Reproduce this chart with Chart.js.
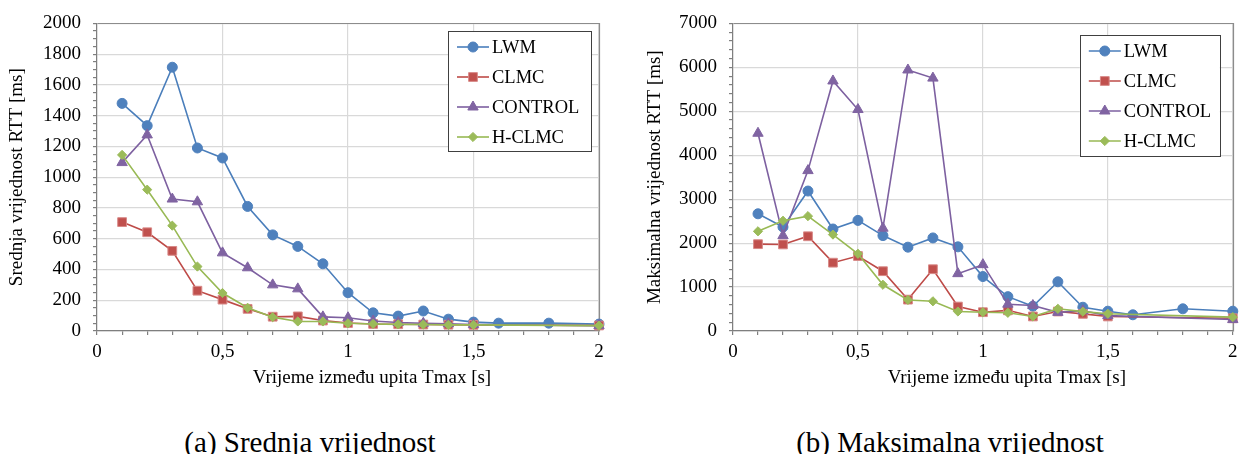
<!DOCTYPE html>
<html>
<head>
<meta charset="utf-8">
<title>RTT vs Tmax</title>
<script src="https://cdn.jsdelivr.net/npm/chart.js@4.4.1/dist/chart.umd.min.js"></script>
<style>
    html, body { margin: 0; padding: 0; background: #fff; }
    body { width: 1240px; height: 454px; position: relative; overflow: hidden; }
    .panel { position: absolute; top: 0; width: 620px; height: 400px; }
    #panelA { left: 0; }
    #panelB { left: 620px; }
    .caption {
        position: absolute; top: 428px;
        font: 29px 'Liberation Serif', 'Times New Roman', serif; line-height: 29px;
        white-space: nowrap; transform: translateX(-50%); color: #000;
    }
</style>
</head>
<body>
<div class="panel" id="panelA"><canvas id="chartMean" width="620" height="400"></canvas></div>
<div class="panel" id="panelB"><canvas id="chartMax" width="620" height="400"></canvas></div>
<div class="caption" style="left:310px">(a) Srednja vrijednost</div>
<div class="caption" style="left:950px">(b) Maksimalna vrijednost</div>

<script>
// ==========================================
// Data
// ==========================================
const seriesNames = ['LWM', 'CLMC', 'CONTROL', 'H-CLMC'];

// Tmax values [s] - LWM has a few extra measurements
const tmax = [0.1, 0.2, 0.3, 0.4, 0.5, 0.6, 0.7, 0.8, 0.9, 1.0, 1.1, 1.2, 1.3, 1.4, 1.5, 2.0];
const tmaxLwm = [0.1, 0.2, 0.3, 0.4, 0.5, 0.6, 0.7, 0.8, 0.9, 1.0, 1.1, 1.2, 1.3, 1.4, 1.5, 1.6, 1.8, 2.0];

// tick labels
const xTicks = [0, 0.5, 1, 1.5, 2];
const meanTicks = [0, 200, 400, 600, 800, 1000, 1200, 1400, 1600, 1800, 2000];
const maxTicks = [0, 1000, 2000, 3000, 4000, 5000, 6000, 7000];

// (a) mean RTT [ms]
const meanLwm     = [1480, 1335, 1715, 1190, 1125, 810, 625, 550, 437, 249, 118, 97, 130, 77, 58, 51, 51, 45];
const meanClmc    = [708, 642, 521, 262, 204, 144, 93, 95, 68, 52, 46, 44, 42, 41, 40, 36];
const meanControl = [1095, 1275, 858, 840, 508, 411, 300, 274, 92, 86, 65, 55, 50, 47, 42, 35];
const meanHclmc   = [1145, 919, 685, 419, 247, 151, 90, 62, 62, 50, 46, 43, 42, 40, 40, 35];

// (b) max RTT [ms]
const maxLwm     = [2667, 2366, 3185, 2321, 2517, 2171, 1908, 2118, 1915, 1239, 782, 563, 1120, 541, 451, 369, 505, 451];
const maxClmc    = [1976, 1970, 2156, 1555, 1706, 1361, 714, 1406, 556, 428, 470, 331, 444, 390, 331, 290];
const maxControl = [4500, 2170, 3650, 5690, 5040, 2340, 5940, 5755, 1305, 1510, 610, 580, 425, 460, 350, 260];
const maxHclmc   = [2269, 2509, 2614, 2194, 1757, 1052, 707, 676, 444, 428, 414, 331, 505, 440, 392, 316];

// ==========================================
// Styles
// ==========================================
const SERIF = "'Liberation Serif', 'Times New Roman', serif";
Chart.defaults.font.family = SERIF;
Chart.defaults.color = '#000';

const styles = [
    { line: '#4A7EBB', fill: '#4F81BD', edge: '#4F81BD', shape: 'circle', r: 5 },
    { line: '#BE4B48', fill: '#C0504D', edge: '#D88A88', shape: 'rect', r: 6.2 },
    { line: '#7D60A0', fill: '#8064A2', edge: '#8064A2', shape: 'triangle', r: 6 },
    { line: '#98B954', fill: '#9BBB59', edge: '#9BBB59', shape: 'rectRot', r: 4.6 }
];

const isOn = (v, list) => list.some(t => Math.abs(t - v) < 1e-6);

function buildDatasets(xsList, valuesList) {
    return valuesList.map((vals, i) => ({
        label: seriesNames[i],
        data: vals.map((v, j) => ({ x: xsList[i][j], y: v })),
        showLine: true,
        borderColor: styles[i].line,
        borderWidth: 1.6,
        backgroundColor: styles[i].fill,
        pointBackgroundColor: styles[i].fill,
        pointBorderColor: styles[i].edge,
        pointBorderWidth: 1,
        pointStyle: styles[i].shape,
        pointRadius: styles[i].r,
        pointHoverRadius: styles[i].r,
        order: 4 - i,      // later series drawn on top, like Excel
        clip: false
    }));
}

function drawMarker(ctx, s, x, y) {
    const r = s.r;
    ctx.beginPath();
    if (s.shape === 'circle') {
        ctx.arc(x, y, r, 0, Math.PI * 2);
    } else if (s.shape === 'rect') {
        const h = r * Math.SQRT1_2;
        ctx.rect(x - h, y - h, 2 * h, 2 * h);
    } else if (s.shape === 'triangle') {
        ctx.moveTo(x, y - r);
        ctx.lineTo(x + r * 0.866, y + r * 0.5);
        ctx.lineTo(x - r * 0.866, y + r * 0.5);
        ctx.closePath();
    } else {
        ctx.moveTo(x, y - r);
        ctx.lineTo(x + r, y);
        ctx.lineTo(x, y + r);
        ctx.lineTo(x - r, y);
        ctx.closePath();
    }
    ctx.fillStyle = s.fill;
    ctx.fill();
    ctx.strokeStyle = s.edge;
    ctx.lineWidth = 1;
    ctx.stroke();
}

// frame, axis titles and the boxed legend
const excelDecor = {
    id: 'excelDecor',
    beforeDatasetsDraw(chart, args, opts) {
        const a = chart.chartArea;
        const ctx = chart.ctx;
        ctx.save();
        ctx.strokeStyle = '#8c8c8c';
        ctx.lineWidth = 1.2;
        ctx.beginPath();
        ctx.moveTo(Math.round(a.left) + 0.5, Math.round(a.top) + 0.5);
        ctx.lineTo(Math.round(a.right) + 0.5, Math.round(a.top) + 0.5);
        ctx.lineTo(Math.round(a.right) + 0.5, Math.round(a.bottom) + 0.5);
        ctx.stroke();
        ctx.restore();
    },
    afterDraw(chart, args, opts) {
        const a = chart.chartArea;
        const ctx = chart.ctx;
        ctx.save();

        // axis titles
        ctx.fillStyle = '#000';
        ctx.font = '19px ' + SERIF;
        ctx.textAlign = 'center';
        ctx.textBaseline = 'middle';
        ctx.fillText(opts.xTitle, (a.left + a.right) / 2 + 24, 378);
        ctx.save();
        ctx.translate(opts.yTitleX, (a.top + a.bottom) / 2);
        ctx.rotate(-Math.PI / 2);
        ctx.fillText(opts.yTitle, 0, 0);
        ctx.restore();

        // legend box
        const lx = a.right - opts.legendInset - opts.legendW;
        const ly = opts.legendTop;
        ctx.fillStyle = '#fff';
        ctx.fillRect(lx, ly, opts.legendW, opts.legendH);
        ctx.strokeStyle = '#404040';
        ctx.lineWidth = 1;
        ctx.strokeRect(Math.round(lx) + 0.5, ly + 0.5, opts.legendW, opts.legendH);

        ctx.font = '18.5px ' + SERIF;
        ctx.textAlign = 'left';
        seriesNames.forEach((name, i) => {
            const y = ly + 16 + i * 30;
            ctx.strokeStyle = styles[i].line;
            ctx.lineWidth = 1.6;
            ctx.beginPath();
            ctx.moveTo(lx + 9, y);
            ctx.lineTo(lx + 41, y);
            ctx.stroke();
            drawMarker(ctx, styles[i], lx + 25, y);
            ctx.fillStyle = '#000';
            ctx.fillText(name, lx + 44, y + 1);
        });
        ctx.restore();
    }
};

function makeChart(canvasId, cfg) {
    const gridColor = list => c => (c.tick && isOn(c.tick.value, list)) ? '#d9d9d9' : 'rgba(0,0,0,0)';
    return new Chart(document.getElementById(canvasId), {
        type: 'scatter',
        data: { datasets: buildDatasets([tmaxLwm, tmax, tmax, tmax], cfg.values) },
        plugins: [excelDecor],
        options: {
            responsive: false,
            devicePixelRatio: 1,
            animation: false,
            events: [],
            layout: { padding: { top: 20, right: cfg.padRight, left: 0, bottom: 0 } },
            plugins: {
                legend: { display: false },
                tooltip: { enabled: false },
                excelDecor: {
                    xTitle: 'Vrijeme između upita Tmax [s]',
                    yTitle: cfg.yTitle,
                    yTitleX: cfg.yTitleX,
                    legendInset: cfg.legendInset,
                    legendTop: cfg.legendTop,
                    legendW: cfg.legendW,
                    legendH: cfg.legendH
                }
            },
            scales: {
                x: {
                    type: 'linear',
                    min: 0,
                    max: 2,
                    afterFit: s => {
                        s.height = 69;
                        s.paddingLeft = 0;
                        s.paddingRight = 0;
                    },
                    ticks: {
                        stepSize: 0.1,
                        autoSkip: false,
                        maxRotation: 0,
                        minRotation: 0,
                        padding: 6,
                        font: { size: 19 },
                        color: '#000',
                        callback: v => isOn(v, xTicks) ? String(Math.round(v * 10) / 10).replace('.', ',') : ''
                    },
                    grid: { color: gridColor(xTicks), tickColor: '#7f7f7f', tickLength: 4, lineWidth: 1.2 },
                    border: { color: '#7f7f7f', width: 1.2 }
                },
                y: {
                    min: 0,
                    max: cfg.yTicks[cfg.yTicks.length - 1],
                    afterFit: s => { s.width = cfg.axisWidth; },
                    ticks: {
                        stepSize: cfg.yMinor,
                        autoSkip: false,
                        padding: 12,
                        font: { size: 19 },
                        color: '#000',
                        callback: v => isOn(v, cfg.yTicks) ? String(v) : ''
                    },
                    grid: { color: gridColor(cfg.yTicks), tickColor: '#7f7f7f', tickLength: 4, lineWidth: 1.2 },
                    border: { color: '#7f7f7f', width: 1.2 }
                }
            }
        }
    });
}

document.addEventListener('DOMContentLoaded', () => {
    makeChart('chartMean', {
        values: [meanLwm, meanClmc, meanControl, meanHclmc],
        yTicks: meanTicks,
        yMinor: 50,
        yTitle: 'Srednja vrijednost RTT [ms]',
        yTitleX: 17.5,
        axisWidth: 97,
        padRight: 21,
        legendInset: 8,
        legendTop: 31,
        legendW: 143,
        legendH: 120
    });

    makeChart('chartMax', {
        values: [maxLwm, maxClmc, maxControl, maxHclmc],
        yTicks: maxTicks,
        yMinor: 200,
        yTitle: 'Maksimalna vrijednost RTT [ms]',
        yTitleX: 35,
        axisWidth: 113,
        padRight: 5,
        legendInset: 13,
        legendTop: 35,
        legendW: 140,
        legendH: 121
    });
});
</script>
</body>
</html>
